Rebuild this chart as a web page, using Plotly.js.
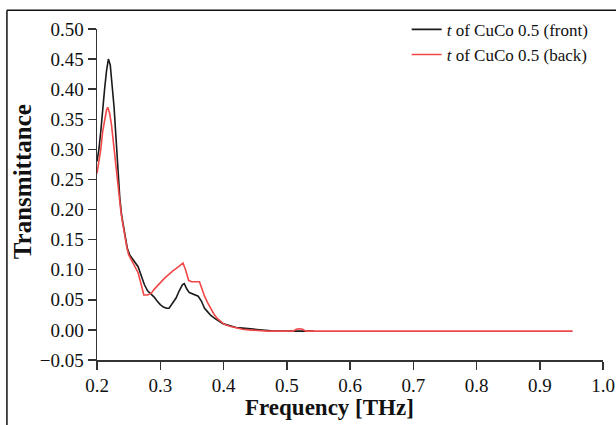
<!DOCTYPE html>
<html>
<head>
<meta charset="utf-8">
<script src="https://cdn.plot.ly/plotly-3.0.1.min.js"></script>
<style>html,body{margin:0;padding:0;background:#fff;}#chart{width:616px;height:425px;}</style>
</head>
<body>
<div id="chart"></div>
<script>
const frontFreq = [0.200,0.203,0.206,0.209,0.212,0.215,0.218,0.221,0.224,0.227,0.230,0.233,0.236,0.239,0.242,0.245,0.248,0.252,0.256,0.262,0.265,0.270,0.275,0.280,0.285,0.290,0.295,0.300,0.305,0.310,0.314,0.320,0.325,0.330,0.335,0.338,0.342,0.346,0.350,0.355,0.360,0.365,0.370,0.375,0.380,0.385,0.390,0.395,0.400,0.410,0.420,0.430,0.440,0.450,0.460,0.470,0.480,0.500,0.510,0.520,0.530,0.543];
const frontT = [0.28,0.30,0.33,0.37,0.40,0.43,0.45,0.44,0.41,0.37,0.32,0.27,0.22,0.19,0.17,0.15,0.135,0.124,0.118,0.11,0.105,0.09,0.075,0.065,0.060,0.055,0.048,0.042,0.038,0.036,0.036,0.045,0.053,0.065,0.075,0.077,0.068,0.062,0.060,0.058,0.056,0.048,0.036,0.030,0.024,0.020,0.016,0.013,0.010,0.007,0.004,0.003,0.002,0.001,0.000,-0.002,-0.002,-0.002,-0.002,-0.002,-0.002,-0.002];
const backFreq = [0.200,0.203,0.206,0.209,0.212,0.215,0.217,0.220,0.223,0.226,0.229,0.232,0.235,0.238,0.241,0.244,0.247,0.250,0.255,0.260,0.265,0.270,0.274,0.280,0.286,0.290,0.295,0.300,0.305,0.310,0.315,0.320,0.325,0.330,0.336,0.340,0.345,0.350,0.355,0.362,0.366,0.370,0.375,0.380,0.385,0.390,0.395,0.400,0.410,0.420,0.430,0.440,0.450,0.470,0.510,0.515,0.520,0.525,0.530,0.600,0.700,0.800,0.900,0.952];
const backT = [0.26,0.28,0.30,0.33,0.35,0.365,0.37,0.36,0.34,0.31,0.28,0.25,0.22,0.195,0.175,0.155,0.138,0.125,0.115,0.105,0.095,0.075,0.058,0.058,0.061,0.067,0.073,0.079,0.084,0.089,0.094,0.098,0.102,0.106,0.111,0.100,0.082,0.080,0.080,0.080,0.068,0.056,0.045,0.035,0.026,0.019,0.014,0.010,0.006,0.003,0.001,0.000,-0.001,-0.002,-0.002,0.001,0.002,0.001,-0.002,-0.002,-0.002,-0.002,-0.002,-0.002];
const xTicks = [0.2,0.3,0.4,0.5,0.6,0.7,0.8,0.9,1.0];
const xTickText = ['0.2','0.3','0.4','0.5','0.6','0.7','0.8','0.9','1.0'];
const yTicks = [-0.05,0,0.05,0.10,0.15,0.20,0.25,0.30,0.35,0.40,0.45,0.50];
const yTickText = ['\u22120.05','0.00','0.05','0.10','0.15','0.20','0.25','0.30','0.35','0.40','0.45','0.50'];
const seriesNames = ['<i>t</i> of CuCo 0.5 (front)','<i>t</i> of CuCo 0.5 (back)'];
const xTitle = '<b>Frequency [THz]</b>';
const yTitle = '<b>Transmittance</b>';

const font = 'Liberation Serif, DejaVu Serif, serif';
const traces = [
  {x: frontFreq, y: frontT, type: 'scatter', mode: 'lines', name: seriesNames[0], line: {color: '#1a1a1a', width: 1.6}},
  {x: backFreq, y: backT, type: 'scatter', mode: 'lines', name: seriesNames[1], line: {color: '#f04848', width: 1.6}}
];
const layout = {
  width: 616, height: 425,
  margin: {l: 97, r: 13, t: 27, b: 65},
  paper_bgcolor: '#fff', plot_bgcolor: '#fff',
  font: {family: font, color: '#111', size: 19},
  showlegend: true,
  legend: {x: 0.612, y: 1.052, xanchor: 'left', yanchor: 'top', bgcolor: 'rgba(0,0,0,0)', font: {size: 17, family: font, color: '#111'}, itemwidth: 30, tracegroupgap: 0},
  xaxis: {
    range: [0.2, 1.0], tickvals: xTicks, ticktext: xTickText,
    showgrid: false, zeroline: false, showline: true, linecolor: '#333', linewidth: 1.5,
    ticks: 'outside', ticklen: 8, tickwidth: 1.5, tickcolor: '#333',
    tickfont: {size: 19, family: font, color: '#111'}
  },
  yaxis: {
    range: [-0.05, 0.5], tickvals: yTicks, ticktext: yTickText,
    showgrid: false, zeroline: false, showline: true, linecolor: '#333', linewidth: 1.5,
    ticks: 'outside', ticklen: 8, tickwidth: 1.5, tickcolor: '#333',
    tickfont: {size: 19, family: font, color: '#111'}
  },
  annotations: [
    {text: xTitle, xref: 'paper', yref: 'paper', x: 0.46, y: -0.145, xanchor: 'center', yanchor: 'middle', showarrow: false, font: {size: 23, family: font, color: '#111'}},
    {text: yTitle, xref: 'paper', yref: 'paper', x: -0.148, y: 0.5375, xanchor: 'center', yanchor: 'middle', textangle: -90, showarrow: false, font: {size: 25, family: font, color: '#111'}}
  ],
  shapes: [
    {type: 'line', xref: 'paper', yref: 'paper', x0: -0.178, x1: -0.178, y0: 1.057, y1: -0.2, line: {color: '#111', width: 1.5}},
    {type: 'line', xref: 'paper', yref: 'paper', x0: -0.178, x1: 1.03, y0: 1.057, y1: 1.057, line: {color: '#111', width: 1.5}}
  ]
};
Plotly.newPlot('chart', traces, layout, {displayModeBar: false, staticPlot: true});
</script>
</body>
</html>
